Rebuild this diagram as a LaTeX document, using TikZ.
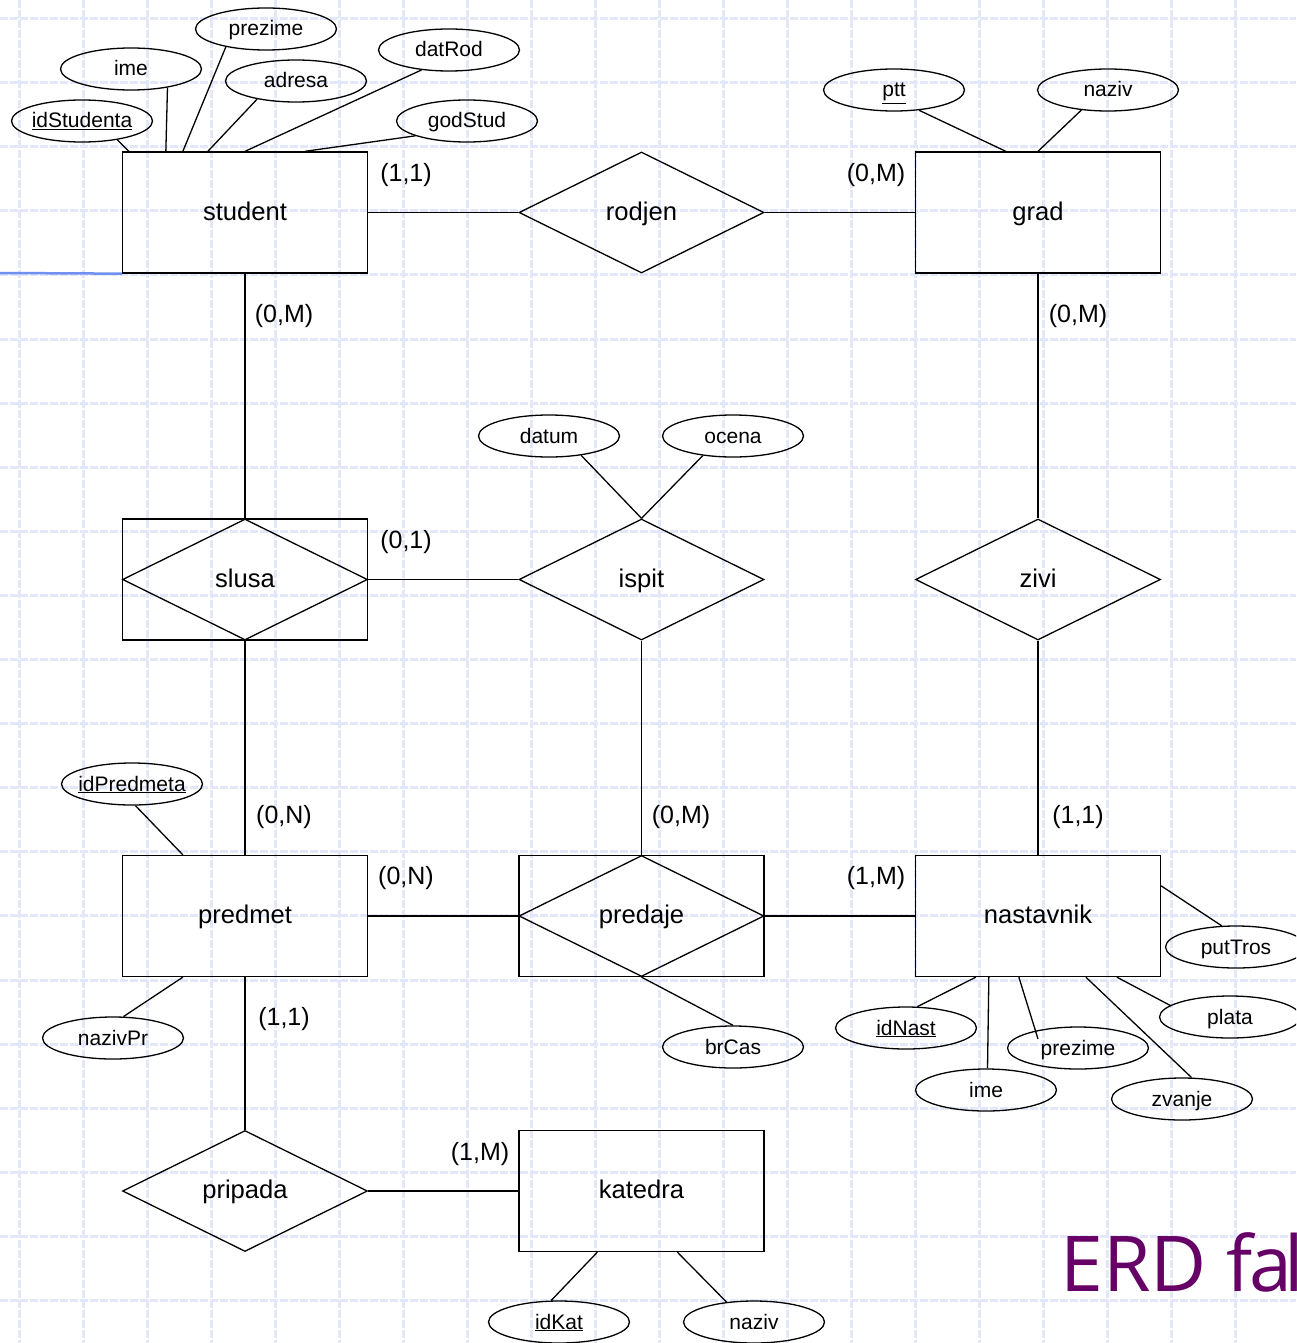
\documentclass[tikz,border=0pt]{standalone}
\usepackage{fontspec}
\setmainfont{Liberation Sans}
\newfontfamily\titlefont{Open Sans}
\usetikzlibrary{shapes.geometric,calc}
\definecolor{gridblue}{RGB}{226,232,250}
\definecolor{slideblue}{RGB}{112,144,240}
\definecolor{titlepurple}{RGB}{102,0,102}
\begin{document}
\begin{tikzpicture}[x=1pt,y=-1pt,
  ent/.style={draw,rectangle,minimum width=245pt,minimum height=121pt,inner sep=0pt,line width=1.3pt,text height=18pt,text depth=3pt,font=\fontsize{25.6}{30}\selectfont},
  rel/.style={draw,diamond,minimum width=245pt,minimum height=121pt,inner sep=0pt,line width=1.3pt,text height=18pt,text depth=3pt,font=\fontsize{25.6}{30}\selectfont},
  wbox/.style={draw,rectangle,minimum width=245pt,minimum height=121pt,inner sep=0pt,line width=1.3pt},
  attr/.style={draw,ellipse,minimum width=141pt,minimum height=42pt,inner sep=0pt,line width=1.3pt,text height=15pt,text depth=1pt,font=\fontsize{21}{25}\selectfont},
  card/.style={inner sep=0pt,font=\fontsize{25}{30}\selectfont},
  conn/.style={line width=1.3pt},
  gridline/.style={gridblue,line width=3pt,dash pattern=on 8pt off 2pt}]
\useasboundingbox (0,0) rectangle (1296,1343);
\clip (0,0) rectangle (1296,1343);
% background grid
\foreach \i in {0,...,20} {
  \draw[gridline] ({19+64.05*\i},0) -- ({19+64.05*\i},1343);
  \draw[gridline] (0,{18.5+64.1*\i}) -- (1296,{18.5+64.1*\i});
}
% entities and relationships
\node[ent] (student) at (245,212.5) {student};
\node[ent] (grad) at (1038,212.5) {grad};
\node[rel] (rodjen) at (641.5,212.5) {rodjen};
\node[wbox] (slusa) at (245,579.5) {};
\node[rel] (slusaD) at (245,579.5) {slusa};
\node[rel] (ispit) at (641.5,579.5) {ispit};
\node[rel] (zivi) at (1038,579.5) {zivi};
\node[ent] (predmet) at (245,916) {predmet};
\node[wbox] (predaje) at (641.5,916) {};
\node[rel] (predajeD) at (641.5,916) {predaje};
\node[ent] (nastavnik) at (1038,916) {nastavnik};
\node[rel] (pripada) at (245,1191) {pripada};
\node[ent] (katedra) at (641.5,1191) {katedra};
% slide line
\coordinate (leftedge) at (0,273);
\draw[slideblue,line width=2.5pt] (leftedge) -- (student.south west);
% attributes
\node[attr,inner xsep=-1pt] (idStudenta) at (82,121) {\underline{idStudenta}};
\node[attr] (ime) at (131,69) {ime};
\node[attr] (prezime) at (266,29) {prezime};
\node[attr] (adresa) at (296,81) {adresa};
\node[attr] (datRod) at (449,50) {datRod};
\node[attr] (godStud) at (467,121) {godStud};
\node[attr] (ptt) at (894,90) {\underline{ptt}};
\node[attr] (nazivG) at (1108,90) {naziv};
\node[attr] (datum) at (549,436) {datum};
\node[attr] (ocena) at (733,436) {ocena};
\node[attr,inner xsep=-4pt] (idPredmeta) at (132,784) {\underline{idPredmeta}};
\node[attr] (nazivPr) at (113,1038) {nazivPr};
\node[attr] (brCas) at (733,1047) {brCas};
\node[attr] (putTros) at (1236,947) {putTros};
\node[attr] (idNast) at (906,1028) {\underline{idNast}};
\node[attr] (imeN) at (986,1090) {ime};
\node[attr] (prezimeN) at (1078,1048) {prezime};
\node[attr] (plata) at (1230,1017) {plata};
\node[attr] (zvanje) at (1182,1099) {zvanje};
\node[attr] (idKat) at (559,1322) {\underline{idKat}};
\node[attr] (nazivK) at (754,1322) {naziv};
% relationship connectors
\draw[conn] (student) -- (rodjen);
\draw[conn] (rodjen) -- (grad);
\draw[conn] (student) -- (slusa);
\draw[conn] (grad) -- (zivi);
\draw[conn] (slusa) -- (ispit);
\draw[conn] (slusa) -- (predmet);
\draw[conn] (ispit) -- (predaje);
\draw[conn] (zivi) -- (nastavnik);
\draw[conn] (predmet) -- (predaje);
\draw[conn] (predaje) -- (nastavnik);
\draw[conn] (predmet) -- (pripada);
\draw[conn] (pripada) -- (katedra);
% attribute connectors
\draw[conn] (idStudenta.-28.4) -- ($(student.north west)+(7,0)$);
\draw[conn] (ime.-27.5) -- ($(student.north west)+(44,0)$);
\draw[conn] (prezime.-156.7) -- ($(student.north west)+(61,0)$);
\draw[conn] (adresa.-155.9) -- ($(student.north west)+(86,0)$);
\draw[conn] (datRod.-144.3) -- (student.north);
\draw[conn] (godStud.-164.2) -- ($(student.north west)+(183,0)$);
\draw[conn] (ptt.-39.4) -- ($(grad.north west)+(91,0)$);
\draw[conn] (nazivG.-143.1) -- (grad.north);
\draw[conn] (datum.-31.3) -- (ispit.north);
\draw[conn] (ocena.-147.7) -- (ispit.north);
\draw[conn] (idPredmeta.-81.9) -- ($(predmet.north west)+(61,0)$);
\draw[conn] (nazivPr.64.3) -- ($(predmet.south west)+(61,0)$);
\draw[conn] (predajeD.south) -- (brCas.north);
\draw[conn] (putTros.124.2) -- ($(nastavnik.north east)+(0,31)$);
\draw[conn] (idNast.62) -- ($(nastavnik.south west)+(61,0)$);
\draw[conn] (imeN.86.7) -- ($(nastavnik.south west)+(74,0)$);
\draw[conn] ($(prezimeN)+(-40,-9)$) -- ($(nastavnik.south west)+(104,0)$);
\draw[conn] (plata.169.8) -- ($(nastavnik.south west)+(202,0)$);
\draw[conn] (zvanje.66.6) -- ($(nastavnik.south west)+(171,0)$);
\draw[conn] (idKat.110.9) -- ($(katedra.south west)+(79,0)$);
\draw[conn] (nazivK.144.3) -- ($(katedra.south west)+(159,0)$);
% cardinalities
\node[card] (c1) at (406,175) {(1,1)};
\node[card] (c2) at (876,175) {(0,M)};
\node[card] (c3) at (284,316) {(0,M)};
\node[card] (c4) at (1078,316) {(0,M)};
\node[card] (c5) at (406,542) {(0,1)};
\node[card] (c6) at (284,817) {(0,N)};
\node[card] (c7) at (681,817) {(0,M)};
\node[card] (c8) at (1078,817) {(1,1)};
\node[card] (c9) at (406,878) {(0,N)};
\node[card] (c10) at (876,878) {(1,M)};
\node[card] (c11) at (284,1019) {(1,1)};
\node[card] (c12) at (480,1154) {(1,M)};
% slide title
\node[anchor=base west,inner sep=0pt,text=titlepurple,font=\titlefont\fontsize{77}{80}\selectfont] (title) at (1060,1291) {ERD f\kern-3pt a\kern-8pt l};
\end{tikzpicture}
\end{document}
